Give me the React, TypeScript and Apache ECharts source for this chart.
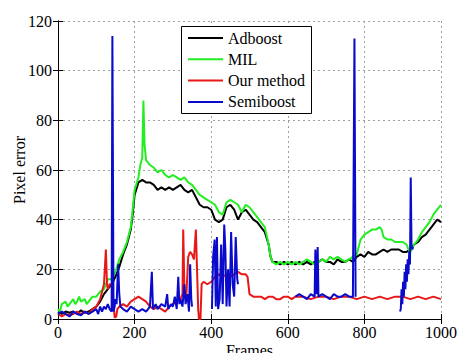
import React, { useEffect, useRef } from "react";
import * as echarts from "echarts";

// Tracking error per frame: [frame, pixel error]
const adboost: [number, number][] = [
  [0, 3], [10, 2], [20, 3], [30, 2.5], [40, 3], [50, 2], [60, 3.5], [70, 2.5], [80, 3], [90, 4],
  [100, 5], [110, 7], [120, 10], [130, 12], [140, 14], [150, 17], [160, 21], [170, 26], [180, 30],
  [190, 36], [195, 42], [200, 50], [210, 55], [220, 56], [230, 55], [240, 55], [250, 54], [260, 52],
  [270, 53], [280, 52], [290, 53], [300, 52], [310, 53], [320, 54], [330, 52], [340, 51], [350, 52],
  [360, 49], [370, 46], [380, 45], [390, 45], [400, 44], [410, 40], [420, 39], [430, 40], [440, 45],
  [450, 46], [460, 44], [470, 40], [480, 43], [490, 44], [500, 42], [510, 40], [520, 39], [530, 37],
  [540, 35], [550, 30], [555, 25], [560, 23], [570, 23], [580, 22], [590, 23], [600, 22], [610, 23],
  [620, 22], [630, 23], [640, 22], [650, 23], [660, 22], [670, 23], [680, 23], [690, 24], [700, 23],
  [710, 23], [720, 22], [730, 24], [740, 23], [750, 23], [760, 24], [770, 23], [780, 25], [790, 26],
  [800, 25], [810, 27], [820, 26], [830, 26], [840, 27], [850, 28], [860, 27], [870, 28], [880, 28],
  [890, 28], [900, 27], [910, 27], [920, 28], [930, 30], [940, 31], [950, 33], [960, 34], [970, 36],
  [980, 38], [990, 40], [1000, 39],
];

const mil: [number, number][] = [
  [0, 4], [5, 3], [10, 6], [20, 7], [25, 5], [30, 6], [40, 8], [45, 6], [50, 7], [55, 9], [60, 7],
  [70, 8], [75, 6], [80, 7], [90, 9], [100, 9], [110, 11], [120, 12], [130, 16], [140, 16], [150, 19],
  [160, 24], [170, 27], [180, 31], [190, 37], [195, 44], [200, 52], [210, 57], [215, 62], [220, 65],
  [223, 88], [226, 70], [230, 64], [240, 62], [250, 61], [260, 59], [270, 60], [280, 58], [290, 57],
  [300, 58], [310, 57], [320, 56], [330, 57], [340, 55], [350, 54], [360, 52], [370, 50], [380, 49],
  [390, 48], [400, 47], [410, 46], [420, 43], [430, 42], [440, 47], [450, 48], [460, 47], [470, 46],
  [480, 43], [490, 46], [500, 45], [510, 43], [520, 41], [530, 39], [540, 37], [550, 30], [555, 25],
  [560, 23], [570, 22], [580, 23], [590, 22], [600, 23], [610, 22], [620, 23], [630, 22], [640, 23],
  [650, 24], [660, 23], [670, 22], [680, 23], [690, 24], [700, 23], [710, 25], [720, 24], [730, 25],
  [740, 24], [750, 23], [760, 24], [770, 25], [780, 26], [785, 29], [790, 32], [800, 34], [810, 35],
  [820, 36], [830, 36], [840, 37], [845, 36], [850, 33], [860, 32], [870, 32], [880, 31], [890, 31],
  [900, 31], [910, 30], [915, 28], [920, 27], [930, 30], [940, 32], [950, 35], [960, 37], [970, 39],
  [980, 42], [990, 44], [1000, 46],
];

const ourMethod: [number, number][] = [
  [0, 2], [10, 1], [20, 2], [30, 1.5], [40, 2], [50, 3], [60, 2], [70, 3], [80, 2], [90, 4],
  [100, 5], [110, 8], [115, 11], [120, 14], [125, 28], [128, 14], [130, 12], [135, 14], [140, 14],
  [145, 6], [148, 0.5], [152, 1], [155, 4], [160, 5], [170, 6], [180, 5], [190, 7], [200, 8],
  [210, 9], [220, 8], [230, 7], [240, 5], [250, 4], [260, 5], [270, 4], [280, 3], [290, 5], [300, 6],
  [310, 7], [320, 8], [325, 10], [327, 36], [330, 12], [335, 9], [340, 25], [345, 27], [350, 26],
  [355, 24], [360, 36], [363, 20], [366, 4], [368, 0], [372, 0], [375, 14], [380, 15], [390, 14],
  [400, 15], [410, 17], [420, 18], [430, 17], [440, 18], [450, 17], [460, 18], [470, 19], [480, 18],
  [490, 18], [495, 17], [500, 10], [510, 9], [520, 9], [530, 9], [540, 8], [550, 9], [560, 9],
  [570, 8], [580, 8], [590, 9], [600, 9], [610, 8], [620, 9], [640, 9], [660, 8], [680, 9], [700, 9],
  [720, 8], [740, 9], [760, 9], [780, 8], [800, 9], [820, 8], [840, 9], [860, 8], [880, 9], [900, 9],
  [920, 8], [940, 9], [960, 8], [980, 9], [1000, 8],
];

// null marks frames where the tracker had no output
const semiboost: [number, number | null][] = [
  [0, 2], [10, 3], [20, 2], [30, 1], [40, 3], [50, 2], [60, 1.5], [70, 3], [80, 2], [90, 3],
  [100, 4], [105, 2], [110, 5], [115, 3], [120, 5], [125, 4], [130, 6], [135, 4], [140, 3],
  [142, 114], [145, 3], [148, 5], [150, 8], [153, 6], [157, 22], [160, 10], [163, 5], [170, 4],
  [180, 3], [190, 5], [200, 4], [210, 3], [220, 4], [230, 3], [240, 5], [245, 19], [248, 4],
  [255, 6], [260, 4], [270, 6], [280, 5], [285, 10], [288, 4], [295, 6], [300, 5], [305, 9],
  [310, 4], [314, 17], [317, 6], [320, 8], [325, 5], [330, 14], [333, 6], [338, 10], [342, 3],
  [345, 22], [348, 8], [350, 5], [351, null],
  [402, 4], [405, 25], [409, 32], [412, 5], [415, 33], [418, 4], [422, 8], [426, 30], [430, 6],
  [434, 38], [437, 28], [440, 5], [444, 20], [448, 5], [452, 35], [456, 14], [460, 9], [464, 33],
  [468, 16], [470, 14], [471, null],
  [620, 9], [630, 10], [640, 9], [650, 8], [660, 10], [670, 9], [672, 28], [675, 10], [678, 29],
  [680, 9], [690, 10], [700, 9], [710, 8], [720, 10], [730, 9], [740, 9], [750, 10], [760, 9],
  [770, 9], [774, 113], [777, 9], [778, null],
  [893, 3], [895, 4], [897, 12], [899, 6], [901, 15], [903, 9], [905, 19], [907, 12], [909, 22],
  [911, 15], [913, 24], [915, 18], [917, 27], [919, 22], [921, 57], [923, 30], [925, 28], [927, 29],
];

const xTicks = { min: 0, max: 1000, interval: 200 };
const yTicks = { min: 0, max: 120, interval: 20 };

const FONT = "Liberation Serif";

export default function App() {
  const ref = useRef<HTMLDivElement>(null);

  useEffect(() => {
    if (!ref.current) return;
    const chart = echarts.init(ref.current, undefined, { renderer: "svg" });

    const line = (name: string, color: string, data: any[]) => ({
      name,
      type: "line",
      data: data.map(([x, y]) => [x, y === null ? "-" : y]),
      showSymbol: false,
      symbol: "none",
      connectNulls: false,
      lineStyle: { color, width: 2 },
      itemStyle: { color },
    });

    const txt = { fontFamily: FONT, fontSize: 16, color: "#000" };
    const boxAxis = { show: true, lineStyle: { color: "#000", width: 1 } };
    const tick = { show: true, inside: true, length: 5, lineStyle: { color: "#000" } };
    const gridLine = { show: true, lineStyle: { color: "#a0a0a0", type: [2, 3], width: 1 } };
    const plain = (v: number) => String(v);

    chart.setOption({
      animation: false,
      backgroundColor: "#fff",
      textStyle: { fontFamily: FONT },
      grid: {
        left: 58,
        right: 16,
        top: 21,
        bottom: 34,
        containLabel: false,
        outerBoundsMode: "none",
      },
      // legend frame drawn as a fixed rectangle
      graphic: [
        {
          type: "rect",
          left: 181,
          top: 26,
          shape: { width: 130, height: 87 },
          style: { fill: "#fff", stroke: "#000", lineWidth: 1 },
          z: 10,
        },
      ],
      legend: {
        left: 188,
        top: 30,
        orient: "vertical",
        padding: 0,
        icon: "rect",
        itemWidth: 35,
        itemHeight: 2,
        itemGap: 5.3,
        z: 20,
        textStyle: { ...txt, lineHeight: 16 },
        data: ["Adboost", "MIL", "Our method", "Semiboost"],
      },
      xAxis: [
        {
          type: "value",
          ...xTicks,
          name: "Frames",
          nameLocation: "middle",
          nameGap: 23,
          nameMoveOverlap: false,
          nameTextStyle: txt,
          axisLine: boxAxis,
          axisTick: tick,
          axisLabel: { ...txt, margin: 5, formatter: plain },
          splitLine: gridLine,
        },
        {
          type: "value",
          ...xTicks,
          position: "top",
          axisLine: boxAxis,
          axisTick: tick,
          axisLabel: { show: false },
          splitLine: { show: false },
        },
      ],
      yAxis: [
        {
          type: "value",
          ...yTicks,
          name: "Pixel error",
          nameLocation: "middle",
          nameGap: 31,
          nameMoveOverlap: false,
          nameTextStyle: txt,
          axisLine: boxAxis,
          axisTick: tick,
          axisLabel: { ...txt, margin: 6, formatter: plain },
          splitLine: gridLine,
        },
        {
          type: "value",
          ...yTicks,
          position: "right",
          axisLine: boxAxis,
          axisTick: tick,
          axisLabel: { show: false },
          splitLine: { show: false },
        },
      ],
      series: [
        line("Adboost", "#000000", adboost),
        line("MIL", "#22ee22", mil),
        line("Our method", "#e81818", ourMethod),
        line("Semiboost", "#0a0acc", semiboost),
      ],
    });

    return () => chart.dispose();
  }, []);

  return (
    <div
      ref={ref}
      style={{ position: "fixed", left: 0, top: 0, width: 457, height: 353 }}
    />
  );
}
